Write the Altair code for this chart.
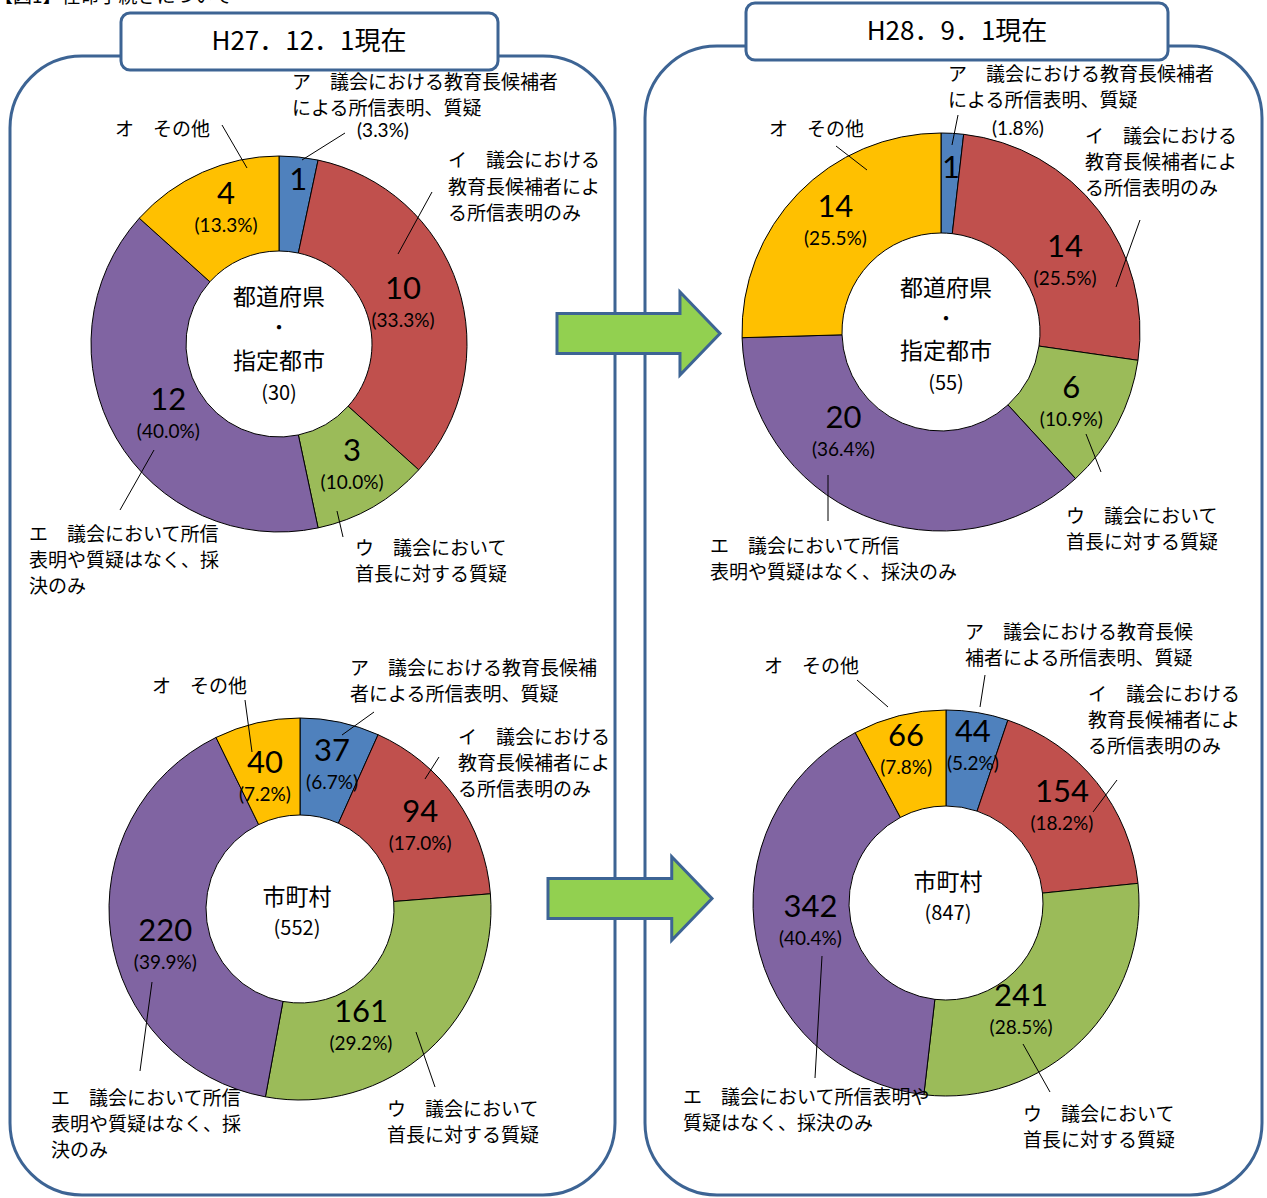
import altair as alt
import pandas as pd

# ---------------- data ----------------
CATEGORIES = ["ア", "イ", "ウ", "エ", "オ"]
SLICE_COLORS = ["#4F81BD", "#C0504D", "#9BBB59", "#8064A2", "#FFC000"]

PREF_H27_COUNTS = [1, 10, 3, 12, 4]
PREF_H27_PCTS = ["(3.3%)", "(33.3%)", "(10.0%)", "(40.0%)", "(13.3%)"]
PREF_H28_COUNTS = [1, 14, 6, 20, 14]
PREF_H28_PCTS = ["(1.8%)", "(25.5%)", "(10.9%)", "(36.4%)", "(25.5%)"]
MUNI_H27_COUNTS = [37, 94, 161, 220, 40]
MUNI_H27_PCTS = ["(6.7%)", "(17.0%)", "(29.2%)", "(39.9%)", "(7.2%)"]
MUNI_H28_COUNTS = [44, 154, 241, 342, 66]
MUNI_H28_PCTS = ["(5.2%)", "(18.2%)", "(28.5%)", "(40.4%)", "(7.8%)"]

HEADER = "【図1】任命手続きについて"
PERIODS = ["H27．12．1現在", "H28．9．1現在"]
PREF_CENTER = ["都道府県", "・", "指定都市"]
MUNI_CENTER = ["市町村"]
TOTALS = ["(30)", "(55)", "(552)", "(847)"]

# ---------------- styles / layout ----------------
JP = "Noto Sans CJK JP"
NUM = "Lato"
FRAME = "#3D6494"
ARROW_FILL = "#92D050"
W, H = 1267, 1198
TWO_PI = 6.283185307179586

# lr = label radius (px), nudge = label angle adjustment (degrees)
DONUTS = [
    dict(counts=PREF_H27_COUNTS, pcts=PREF_H27_PCTS, inner=[False, True, True, True, True],
         cx=279, cy=344, R=188, r=93, lr=[149, 130, 143, 132, 144], nudge=[1.4, 0.5, -0.7, -3, 2.4]),
    dict(counts=PREF_H28_COUNTS, pcts=PREF_H28_PCTS, inner=[False, True, True, True, True],
         cx=941, cy=332, R=199, r=99, lr=[148, 142, 149, 141, 152], nudge=[0.6, 8.5, 1.2, 20.9, 1.8]),
    dict(counts=MUNI_H27_COUNTS, pcts=MUNI_H27_PCTS, inner=[True] * 5,
         cx=300, cy=909, R=191, r=94, lr=[146, 145, 134, 140, 135], nudge=[0.6, 1.2, 15, -8, -2]),
    dict(counts=MUNI_H28_COUNTS, pcts=MUNI_H28_PCTS, inner=[True] * 5,
         cx=946, cy=903, R=193, r=97, lr=[157, 150, 132, 137, 156], nudge=[0.5, -0.8, 10, 2.4, -0.8]),
]

PANELS = pd.DataFrame({"x": [10, 645], "x2": [615, 1262], "y": [56, 46], "y2": [1195, 1195]})
TITLE_BOXES = pd.DataFrame({"x": [121, 746], "x2": [498, 1168], "y": [13, 3], "y2": [70, 60]})
TITLE_TEXT = pd.DataFrame({"x": [309, 957], "y": [42, 32], "t": PERIODS})
ARROWS = pd.DataFrame({"x": [638.5, 630], "y": [333.5, 898.5], "s": [163 ** 2, 164 ** 2]})
ARROW_PATH = "M -1 -0.245 L 0.509 -0.245 L 0.509 -0.509 L 1 0 L 0.509 0.509 L 0.509 0.245 L -1 0.245 Z"

CENTER_LABELS = pd.DataFrame([
    (279, 298, PREF_CENTER[0], 23), (279, 329, PREF_CENTER[1], 20), (279, 362, PREF_CENTER[2], 23),
    (279, 394, TOTALS[0], 20),
    (946, 289, PREF_CENTER[0], 23), (946, 320, PREF_CENTER[1], 20), (946, 352, PREF_CENTER[2], 23),
    (946, 384, TOTALS[1], 20),
    (297, 898, MUNI_CENTER[0], 23), (297, 929, TOTALS[2], 20),
    (948, 883, MUNI_CENTER[0], 23), (948, 914, TOTALS[3], 20),
], columns=["x", "y", "t", "fs"])

CALLOUTS = pd.DataFrame([
    # top-left
    (292, 83, "ア　議会における教育長候補者"), (292, 109, "による所信表明、質疑"),
    (448, 161, "イ　議会における"), (448, 188, "教育長候補者によ"), (448, 214, "る所信表明のみ"),
    (355, 549, "ウ　議会において"), (355, 575, "首長に対する質疑"),
    (29, 535, "エ　議会において所信"), (29, 561, "表明や質疑はなく、採"), (29, 587, "決のみ"),
    (115, 130, "オ　その他"),
    # top-right
    (948, 75, "ア　議会における教育長候補者"), (948, 101, "による所信表明、質疑"),
    (1085, 137, "イ　議会における"), (1085, 163, "教育長候補者によ"), (1085, 189, "る所信表明のみ"),
    (1066, 517, "ウ　議会において"), (1066, 543, "首長に対する質疑"),
    (710, 547, "エ　議会において所信"), (710, 573, "表明や質疑はなく、採決のみ"),
    (769, 130, "オ　その他"),
    # bottom-left
    (350, 669, "ア　議会における教育長候補"), (350, 695, "者による所信表明、質疑"),
    (458, 738, "イ　議会における"), (458, 764, "教育長候補者によ"), (458, 790, "る所信表明のみ"),
    (387, 1110, "ウ　議会において"), (387, 1136, "首長に対する質疑"),
    (51, 1099, "エ　議会において所信"), (51, 1125, "表明や質疑はなく、採"), (51, 1151, "決のみ"),
    (152, 687, "オ　その他"),
    # bottom-right
    (965, 633, "ア　議会における教育長候"), (965, 659, "補者による所信表明、質疑"),
    (1088, 695, "イ　議会における"), (1088, 721, "教育長候補者によ"), (1088, 747, "る所信表明のみ"),
    (1023, 1115, "ウ　議会において"), (1023, 1141, "首長に対する質疑"),
    (683, 1098, "エ　議会において所信表明や"), (683, 1124, "質疑はなく、採決のみ"),
    (764, 667, "オ　その他"),
], columns=["x", "y", "t"])

PCT_CALLOUTS = pd.DataFrame([
    (383, 131, PREF_H27_PCTS[0]),
    (1018, 129, PREF_H28_PCTS[0]),
], columns=["x", "y", "t"])

LEADERS = pd.DataFrame([
    (302, 160, 345, 133), (398, 254, 432, 192), (337, 511, 343, 537), (154, 450, 120, 510), (222, 125, 247, 168),
    (952, 145, 958, 115), (1116, 287, 1140, 220), (1086, 434, 1101, 472), (828, 475, 828, 521), (836, 146, 867, 170),
    (342, 735, 374, 712), (425, 779, 439, 757), (416, 1032, 435, 1087), (152, 982, 140, 1071), (252, 752, 245, 700),
    (980, 707, 985, 675), (1093, 812, 1117, 780), (1023, 1044, 1050, 1092), (822, 956, 815, 1078), (888, 707, 857, 680),
], columns=["x", "y", "x2", "y2"])

HEADER_DF = pd.DataFrame({"x": [-6], "y": [-3], "t": [HEADER]})


def px(field):
    return alt.X(f"{field}:Q", scale=None, axis=None)


def py(field):
    return alt.Y(f"{field}:Q", scale=None, axis=None)


THETA_SCALE = alt.Scale(domain=[0, 1], range=[0, TWO_PI])

layers = []

layers.append(alt.Chart(PANELS).mark_rect(cornerRadius=72, fill="white", stroke=FRAME, strokeWidth=3).encode(
    x=px("x"), x2="x2:Q", y=py("y"), y2="y2:Q"))
layers.append(alt.Chart(TITLE_BOXES).mark_rect(cornerRadius=9, fill="white", stroke=FRAME, strokeWidth=3).encode(
    x=px("x"), x2="x2:Q", y=py("y"), y2="y2:Q"))
layers.append(alt.Chart(TITLE_TEXT).mark_text(font=JP, fontSize=26, color="#000", baseline="middle").encode(
    x=px("x"), y=py("y"), text="t:N"))
layers.append(alt.Chart(HEADER_DF).mark_text(font=JP, fontSize=19, color="#000", align="left", baseline="middle").encode(
    x=px("x"), y=py("y"), text="t:N"))
layers.append(alt.Chart(ARROWS).mark_point(shape=ARROW_PATH, filled=True, fill=ARROW_FILL, stroke=FRAME,
                                           strokeWidth=3, opacity=1, fillOpacity=1).encode(
    x=px("x"), y=py("y"), size=alt.Size("s:Q", scale=None, legend=None)))

for d in DONUTS:
    df = pd.DataFrame({
        "cat": CATEGORIES,
        "value": d["counts"],
        "rank": list(range(5)),
        "count_label": [str(v) for v in d["counts"]],
        "pct_label": [p if s else "" for p, s in zip(d["pcts"], d["inner"])],
        "label_r": d["lr"],
        "nudge": d["nudge"],
    })
    base = alt.Chart(df)
    layers.append(base.mark_arc(innerRadius=d["r"], outerRadius=d["R"], stroke="#000", strokeWidth=1).encode(
        theta=alt.Theta("value:Q", stack="normalize", scale=THETA_SCALE),
        order=alt.Order("rank:Q", sort="ascending"),
        color=alt.Color("cat:N", scale=alt.Scale(domain=CATEGORIES, range=SLICE_COLORS), legend=None),
        x=alt.value(d["cx"]), y=alt.value(d["cy"])))
    lab = base.transform_joinaggregate(total="sum(value)").transform_window(
        cum="sum(value)", sort=[alt.SortField("rank")], frame=[None, 0]
    ).transform_calculate(mid="(datum.cum - datum.value / 2) / datum.total + datum.nudge / 360")
    for field, fs, dy in (("count_label", 31, -15), ("pct_label", 19, 16)):
        layers.append(lab.mark_text(font=NUM, fontSize=fs, dy=dy, color="#000", baseline="middle").encode(
            theta=alt.Theta("mid:Q", stack=None, scale=THETA_SCALE),
            radius=alt.Radius("label_r:Q", scale=None),
            text=f"{field}:N",
            x=alt.value(d["cx"]), y=alt.value(d["cy"])))

layers.append(alt.Chart(LEADERS).mark_rule(color="#000", strokeWidth=1).encode(
    x=px("x"), y=py("y"), x2="x2:Q", y2="y2:Q"))
layers.append(alt.Chart(CENTER_LABELS).mark_text(font=JP, color="#000", baseline="middle").encode(
    x=px("x"), y=py("y"), text="t:N", size=alt.Size("fs:Q", scale=None, legend=None)))
layers.append(alt.Chart(CALLOUTS).mark_text(font=JP, fontSize=19, color="#000", align="left", baseline="middle").encode(
    x=px("x"), y=py("y"), text="t:N"))
layers.append(alt.Chart(PCT_CALLOUTS).mark_text(font=NUM, fontSize=19, color="#000", baseline="middle").encode(
    x=px("x"), y=py("y"), text="t:N"))

chart = alt.layer(*layers).properties(
    width=W, height=H, padding=0, autosize=alt.AutoSizeParams(type="none"),
    background="white"
).configure_view(stroke=None)

chart.save("out.html", embed_options={"renderer": "svg", "actions": False})
